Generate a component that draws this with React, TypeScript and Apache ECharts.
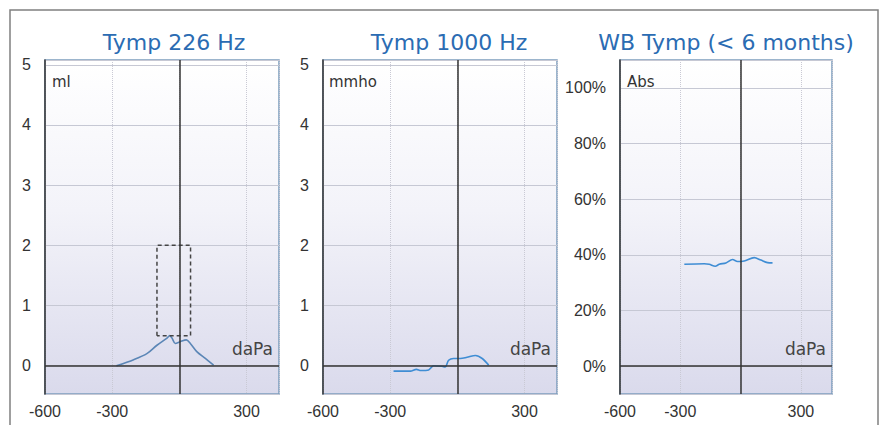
import React, { useEffect, useRef } from "react";
import * as echarts from "echarts";

// ---- data ----
const titles = ["Tymp 226 Hz", "Tymp 1000 Hz", "WB Tymp (< 6 months)"];
const units = ["ml", "mmho", "Abs"];
const xUnit = "daPa";
const xTicks = [-600, -300, 300];

const tymp226X = [-281, -204, -145, -100, -55, -43, -33, -18, 4, 31, 49, 79, 116, 153];
const tymp226Y = [0, 0.1, 0.2, 0.34, 0.46, 0.5, 0.46, 0.37, 0.4, 0.43, 0.37, 0.23, 0.12, 0.01];

const boxX = [-100, -100, 50, 50, -100];
const boxY = [0.5, 2, 2, 0.5, 0.5];

const tymp1000X = [-285, -210, -183, -163, -128, -106, -69, -54, -39, -17, 13, 43, 81, 111, 140];
const tymp1000Y = [-0.09, -0.09, -0.06, -0.08, -0.07, 0, -0.01, -0.02, 0.09, 0.12, 0.12, 0.14, 0.17, 0.12, 0.01];

const wbX = [-280, -181, -156, -126, -106, -73, -40, -15, 18, 68, 101, 134, 159];
const wbY = [36.6, 36.8, 36.6, 35.9, 36.6, 37.1, 38.3, 37.6, 37.8, 39.0, 38.1, 37.2, 37.1];

const zip = (xs: number[], ys: number[]) => xs.map((x, i) => [x, ys[i]]);

export default function App() {
  const ref = useRef<HTMLDivElement>(null);
  useEffect(() => {
    if (!ref.current) return;
    const chart = echarts.init(ref.current, null, { renderer: "svg" });
    const labelFont = "Liberation Sans";
    const bg = new echarts.graphic.LinearGradient(0, 0, 0, 1, [
      { offset: 0, color: "#ffffff" },
      { offset: 0.45, color: "#f3f3f9" },
      { offset: 1, color: "#dadaec" },
    ]);
    const grids = [
      { left: 45, top: 60, width: 234, height: 334 },
      { left: 323, top: 60, width: 234, height: 334 },
      { left: 620, top: 60, width: 212, height: 334 },
    ].map((g) => ({
      ...g,
      show: true,
      backgroundColor: bg,
      borderColor: "#7c9dbd",
      borderWidth: 1.5,
      containLabel: false,
    }));

    const xAxes = [0, 1, 2].map((i) => ({
      type: "value",
      gridIndex: i,
      min: -600,
      max: i === 2 ? 455 : 445,
      interval: 300,
      axisLine: { show: false },
      axisTick: { show: false },
      axisLabel: {
        color: "#333",
        fontSize: 16,
        fontFamily: labelFont,
        margin: 9,
        showMaxLabel: false,
        formatter: (v: number) => (xTicks.includes(v) ? String(v) : ""),
      },
      splitLine: { show: true, lineStyle: { color: "#c9c9d4", type: "dotted", width: 1 } },
    }));

    const yAxes = [0, 1, 2].map((i) => {
      const pct = i === 2;
      return {
        type: "value",
        gridIndex: i,
        min: pct ? -10 : -0.47,
        max: pct ? 110 : 5.08,
        minInterval: pct ? 20 : 1,
        maxInterval: pct ? 20 : 1,
        splitNumber: 5,
        axisLine: { show: true, onZero: false, lineStyle: { color: "#333", width: 1.5 } },
        axisTick: { show: false },
        axisLabel: {
          color: "#333",
          fontSize: 16,
          fontFamily: labelFont,
          margin: 14,
          showMaxLabel: false,
          showMinLabel: false,
          formatter: (v: number) => {
            const step = pct ? 20 : 1;
            if (Math.abs(v / step - Math.round(v / step)) > 1e-6) return "";
            return pct ? `${Math.round(v)}%` : String(Math.round(v));
          },
        },
        splitLine: { show: true, lineStyle: { color: "#c6c8d4", width: 1 } },
      };
    });

    const zeroLines = {
      silent: true,
      symbol: ["none", "none"],
      label: { show: false },
      lineStyle: { color: "#333", width: 1.5, type: "solid" },
      data: [{ xAxis: 0 }, { yAxis: 0 }],
    };

    const series: any[] = [
      {
        type: "line",
        xAxisIndex: 0,
        yAxisIndex: 0,
        data: zip(tymp226X, tymp226Y),
        showSymbol: false,
        smooth: 0.3,
        lineStyle: { color: "#5b86b6", width: 1.6 },
        markLine: zeroLines,
        z: 3,
      },
      {
        type: "line",
        xAxisIndex: 0,
        yAxisIndex: 0,
        data: zip(boxX, boxY),
        showSymbol: false,
        lineStyle: { color: "#444", width: 1.5, type: [4, 3] },
        z: 3,
      },
      {
        type: "line",
        xAxisIndex: 1,
        yAxisIndex: 1,
        data: zip(tymp1000X, tymp1000Y),
        showSymbol: false,
        smooth: 0.3,
        lineStyle: { color: "#3f8dd4", width: 1.6 },
        markLine: zeroLines,
        z: 3,
      },
      {
        type: "line",
        xAxisIndex: 2,
        yAxisIndex: 2,
        data: zip(wbX, wbY),
        showSymbol: false,
        smooth: 0.3,
        lineStyle: { color: "#3f8dd4", width: 1.6 },
        markLine: zeroLines,
        z: 3,
      },
    ];

    const titleCenters = [174, 449, 726];
    const unitPos = [52, 329, 627];
    const daPaRight = [273, 551, 826];
    const graphic: any[] = [
      {
        type: "polyline",
        shape: { points: [[10, 425], [10, 10], [878, 10], [878, 425]] },
        style: { stroke: "#808080", lineWidth: 1.5, fill: null },
        silent: true,
      },
    ];
    titles.forEach((t, i) => {
      graphic.push({
        type: "text",
        x: titleCenters[i],
        y: 42,
        style: {
          text: t,
          fill: "#2b6cb3",
          font: '22px "DejaVu Sans"',
          textAlign: "center",
          textVerticalAlign: "middle",
        },
        z: 10,
      });
      graphic.push({
        type: "text",
        x: unitPos[i],
        y: 82,
        style: {
          text: units[i],
          fill: "#333",
          font: '15px "DejaVu Sans"',
          textAlign: "left",
          textVerticalAlign: "middle",
        },
        z: 10,
      });
      graphic.push({
        type: "text",
        x: daPaRight[i],
        y: 349,
        style: {
          text: xUnit,
          fill: "#444",
          font: '17px "DejaVu Sans"',
          textAlign: "right",
          textVerticalAlign: "middle",
        },
        z: 10,
      });
    });

    chart.setOption({
      animation: false,
      backgroundColor: "#ffffff",
      grid: grids,
      xAxis: xAxes,
      yAxis: yAxes,
      series,
      graphic,
    } as any);
    return () => chart.dispose();
  }, []);
  return (
    <div
      ref={ref}
      style={{ position: "absolute", left: 0, top: 0, width: 880, height: 425 }}
    />
  );
}
